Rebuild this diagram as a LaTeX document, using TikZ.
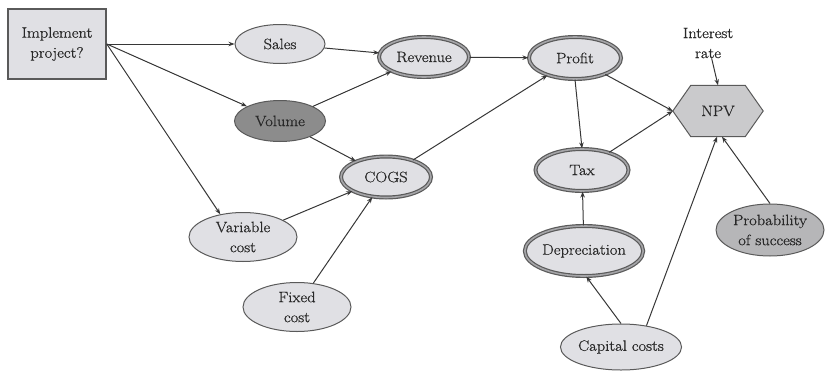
\documentclass[tikz,border=0pt]{standalone}
\usepackage{fontspec}
\setmainfont{Latin Modern Roman}[FakeStretch=1.1,FakeBold=0.8]
\usetikzlibrary{shapes.geometric,arrows.meta}
\definecolor{lightf}{RGB}{224,224,228}
\definecolor{darkf}{RGB}{140,140,140}
\definecolor{npvf}{RGB}{202,202,204}
\definecolor{probf}{RGB}{182,182,184}
\definecolor{edgec}{RGB}{55,55,55}
\definecolor{bordc}{RGB}{90,90,90}
\definecolor{dblc}{RGB}{165,165,168}
\definecolor{txtc}{RGB}{40,40,40}
\tikzset{
  lbl/.style={font=\fontsize{15}{20}\selectfont, text=txtc, align=center, inner sep=0pt},
  oval/.style={lbl, ellipse, draw=bordc, line width=1pt, fill=lightf},
  dbl/.style={lbl, ellipse, draw=bordc, line width=1.2pt, double=dblc, double distance=1.6pt, fill=lightf},
  conn/.style={draw=edgec, line width=1pt, -{Stealth[length=6pt,width=4.5pt]}},
}
\begin{document}
\begin{tikzpicture}[x=1pt,y=-1pt]
\useasboundingbox (0,0) rectangle (826,372);
% nodes
\node[lbl, rectangle, draw=bordc, line width=1.6pt, fill=lightf, minimum width=98pt, minimum height=70pt] (impl) at (57,44) {Implement\\project?};
\node[oval, minimum width=90pt, minimum height=39pt] (sales) at (280,44) {Sales};
\node[oval, fill=darkf, minimum width=91pt, minimum height=41pt] (vol) at (280,121) {Volume};
\node[dbl, minimum width=90pt, minimum height=40pt] (rev) at (424,57) {Revenue};
\node[dbl, minimum width=90pt, minimum height=41pt] (cogs) at (386,177) {COGS};
\node[oval, minimum width=108pt, minimum height=49pt] (var) at (243,237) {Variable\\cost};
\node[oval, minimum width=108pt, minimum height=49pt] (fix) at (297,307) {Fixed\\cost};
\node[dbl, minimum width=92pt, minimum height=42pt] (profit) at (575,58) {Profit};
\node[dbl, minimum width=93pt, minimum height=42pt] (tax) at (582,170) {Tax};
\node[dbl, minimum width=112pt, minimum height=50pt] (dep) at (584,251) {Depreciation};
\node[oval, minimum width=110pt, minimum height=46pt] (cap) at (621,347) {Capital costs};
\node[oval, fill=probf, minimum width=108pt, minimum height=52pt] (prob) at (770,230) {Probability\\of success};
\node[lbl, minimum width=90pt, minimum height=51pt] (npv) at (718,111) {};
\node[lbl] (rate) at (708,43) {Interest\\rate};
% hexagon outline for NPV
\fill[npvf, draw=bordc, line width=1pt]
  (npv.west) -- ([xshift=18pt]npv.north west) -- ([xshift=-18pt]npv.north east)
  -- (npv.east) -- ([xshift=-18pt]npv.south east) -- ([xshift=18pt]npv.south west) -- cycle;
\node[lbl] (npvtext) at (npv) {NPV};
% connectors
\draw[conn] (impl.east) -- (sales);
\draw[conn] (impl.east) -- (vol);
\draw[conn] (impl.east) -- (var.135);
\draw[conn] (sales) -- (rev);
\draw[conn] (vol) -- (rev);
\draw[conn] (vol) -- (cogs);
\draw[conn] (var) -- (cogs);
\draw[conn] (fix) -- (cogs);
\draw[conn] (cogs) -- (profit);
\draw[conn] (rev) -- (profit);
\draw[conn] (profit.south) -- (tax.north);
\draw[conn] (profit) -- (npv.west);
\draw[conn] (tax) -- (npv.west);
\draw[conn] (dep) -- (tax);
\draw[conn] (cap.north) -- (dep.-85);
\draw[conn] (cap.40) -- ([xshift=-1pt]npv.south);
\draw[conn] (prob.north) -- ([xshift=4pt]npv.south);
\draw[conn] (rate) -- (npv.north);
\end{tikzpicture}
\end{document}
